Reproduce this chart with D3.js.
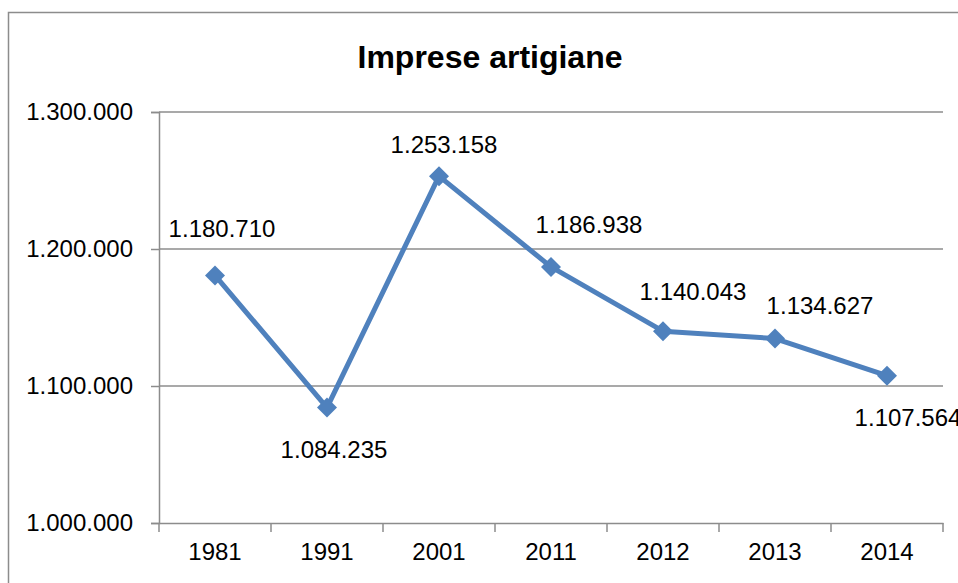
<!DOCTYPE html>
<html>
<head>
<meta charset="utf-8">
<script src="https://cdn.jsdelivr.net/npm/d3@7"></script>
<style>
  body { margin: 0; background: #fff; }
  text { font-family: "Liberation Sans", Arial, sans-serif; fill: #000; }
</style>
</head>
<body>
<div id="chart"></div>
<script>
// data
var years = ["1981", "1991", "2001", "2011", "2012", "2013", "2014"];
var imprese = [1180710, 1084235, 1253158, 1186938, 1140043, 1134627, 1107564];
var yTicks = [1000000, 1100000, 1200000, 1300000];
var title = "Imprese artigiane";

// where each data label sits relative to its point
var labelDx = [7, 7, 5, 38, 30, 45, 21];
var labelDy = [-38, 50, -23, -34, -31, -25, 50];

function init(){
    var w = 958;
    var h = 583;
    var margin = {top: 112, left: 159, right: 15, bottom: 60};

    var svg = d3.select("#chart")
                .append("svg")
                .attr("width", w)
                .attr("height", h);

    // chart frame (only top and left edges visible)
    svg.append("rect")
        .attr("x", 8.5)
        .attr("y", 12.5)
        .attr("width", w + 20)
        .attr("height", h + 20)
        .attr("fill", "none")
        .attr("stroke", "#8c8c8c")
        .attr("stroke-width", 1.5);

    var x = d3.scaleBand()
              .domain(years)
              .range([margin.left, w - margin.right]);

    var y = d3.scaleLinear()
              .domain([1000000, 1300000])
              .range([h - margin.bottom, margin.top]);

    var fmt = function(v){ return d3.format(",")(v).replace(/,/g, "."); };

    // gridlines
    svg.append("g")
        .selectAll("line")
        .data(yTicks.slice(1))
        .enter()
        .append("line")
        .attr("x1", margin.left)
        .attr("x2", w - margin.right)
        .attr("y1", function(d){ return y(d); })
        .attr("y2", function(d){ return y(d); })
        .attr("stroke", "#8c8c8c")
        .attr("stroke-width", 1.5);

    // y axis
    var yAxis = svg.append("g")
        .attr("transform", "translate(" + margin.left + ",0)")
        .call(d3.axisLeft(y).tickValues(yTicks).tickFormat(fmt).tickSize(8).tickPadding(18));
    yAxis.selectAll("text").attr("font-size", 24).attr("dy", "0.33em");

    // x axis
    var xAxis = svg.append("g")
        .attr("transform", "translate(0," + (h - margin.bottom) + ")")
        .call(d3.axisBottom(x).tickSize(0).tickPadding(20));
    xAxis.selectAll("text").attr("font-size", 24).attr("dy", "0.71em");
    // tick marks between categories
    var bounds = years.map(function(d){ return x(d); }).concat([w - margin.right]);
    xAxis.selectAll("line.sep")
        .data(bounds)
        .enter()
        .append("line")
        .attr("class", "sep")
        .attr("x1", function(d){ return d; })
        .attr("x2", function(d){ return d; })
        .attr("y1", 0)
        .attr("y2", 9)
        .attr("stroke", "#8c8c8c")
        .attr("stroke-width", 1.5);

    svg.selectAll(".domain").attr("stroke", "#8c8c8c").attr("stroke-width", 1.5);
    svg.selectAll(".tick line").attr("stroke", "#8c8c8c").attr("stroke-width", 1.5);

    var pts = years.map(function(d, i){
        return {year: d, value: imprese[i], i: i};
    });

    var cx = function(d){ return x(d.year) + x.bandwidth() / 2; };

    // line
    var line = d3.line()
                 .x(cx)
                 .y(function(d){ return y(d.value); });

    svg.append("path")
        .datum(pts)
        .attr("d", line)
        .attr("fill", "none")
        .attr("stroke", "#4f81bd")
        .attr("stroke-width", 5)
        .attr("stroke-linejoin", "round");

    // diamond markers
    svg.selectAll("path.marker")
        .data(pts)
        .enter()
        .append("path")
        .attr("class", "marker")
        .attr("d", d3.symbol().type(d3.symbolSquare).size(200))
        .attr("transform", function(d){
            return "translate(" + cx(d) + "," + y(d.value) + ") rotate(45)";
        })
        .attr("fill", "#4f81bd");

    // data labels
    svg.selectAll("text.lbl")
        .data(pts)
        .enter()
        .append("text")
        .attr("class", "lbl")
        .attr("x", function(d){ return cx(d) + labelDx[d.i]; })
        .attr("y", function(d){ return y(d.value) + labelDy[d.i]; })
        .attr("text-anchor", "middle")
        .attr("font-size", 24)
        .text(function(d){ return fmt(d.value); });

    // title
    svg.append("text")
        .attr("x", 490)
        .attr("y", 68)
        .attr("text-anchor", "middle")
        .attr("font-size", 32)
        .attr("font-weight", "bold")
        .text(title);
}
window.onload = init;
</script>
</body>
</html>
